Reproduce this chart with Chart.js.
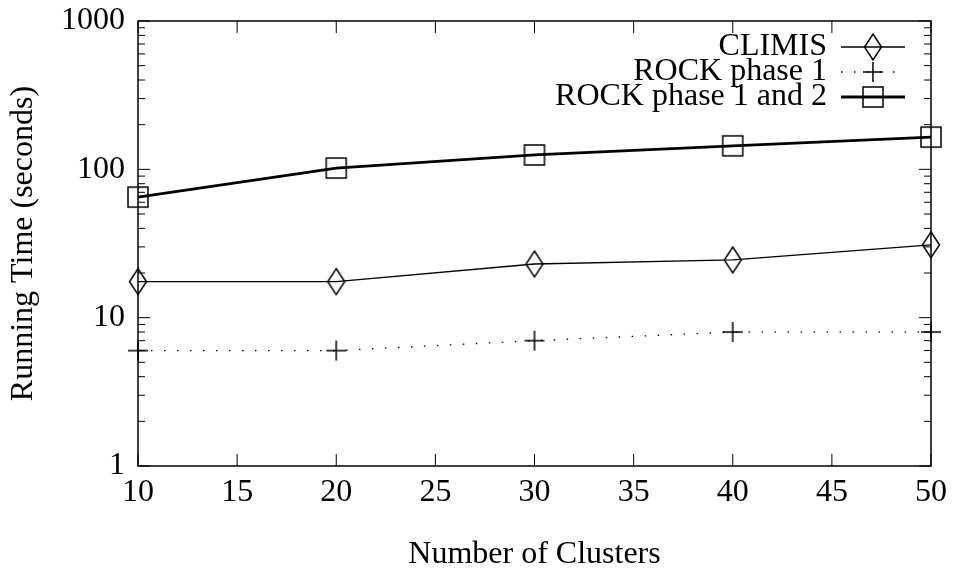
<!DOCTYPE html>
<html>
<head>
<meta charset="utf-8">
<script src="https://cdn.jsdelivr.net/npm/chart.js@4.4.1/dist/chart.umd.min.js"></script>
<style>
  html, body { margin: 0; padding: 0; background: #fff; }
</style>
</head>
<body>
<canvas id="Run_Chart" width="955" height="574"></canvas>
<script>
// ข้อมูลจากกราฟ
const clusters = [10, 20, 30, 40, 50];
const climis = [17.5, 17.5, 23, 24.5, 31];
const rockPhase1 = [6, 6, 7, 8, 8];
const rockPhase12 = [65, 102, 125, 144, 165];
const xTicks = [10, 15, 20, 25, 30, 35, 40, 45, 50];
const yTicks = [1, 10, 100, 1000];

const FONT = "'Liberation Serif', 'DejaVu Serif', serif";
const FONT_SIZE = 32;

// marker แบบ gnuplot (ไม่เติมสี)
function makeMarker(kind) {
    const c = document.createElement('canvas');
    const w = kind === 'diamond' ? 20 : 24;
    const h = kind === 'diamond' ? 30 : 24;
    c.width = w;
    c.height = h;
    const g = c.getContext('2d');
    g.strokeStyle = '#000';
    g.lineWidth = 1.5;
    g.beginPath();
    if (kind === 'diamond') {
        g.moveTo(w / 2, 2); g.lineTo(w - 1.5, h / 2); g.lineTo(w / 2, h - 2); g.lineTo(1.5, h / 2); g.closePath();
    } else if (kind === 'plus') {
        g.moveTo(2, h / 2); g.lineTo(w - 2, h / 2); g.moveTo(w / 2, 2); g.lineTo(w / 2, h - 2);
    } else {
        g.rect(2, 2, w - 4, h - 4);
    }
    g.stroke();
    return c;
}

// กรอบ + ขีด tick เข้าด้านใน
const frameTicks = {
    id: 'frameTicks',
    afterDatasetsDraw(chart) {
        const { ctx, chartArea: a, scales: { x, y } } = chart;
        ctx.save();
        ctx.strokeStyle = '#000';
        ctx.lineWidth = 1;
        ctx.beginPath();
        xTicks.forEach(v => {
            const px = x.getPixelForValue(v);
            ctx.moveTo(px, a.bottom); ctx.lineTo(px, a.bottom - 12);
            ctx.moveTo(px, a.top); ctx.lineTo(px, a.top + 12);
        });
        for (let d = 1; d <= 1000; d *= 10) {
            for (let k = 1; k <= 9; k++) {
                const v = k * d;
                if (v > 1000) break;
                const py = y.getPixelForValue(v);
                const len = k === 1 ? 12 : 7;
                ctx.moveTo(a.left, py); ctx.lineTo(a.left + len, py);
                ctx.moveTo(a.right, py); ctx.lineTo(a.right - len, py);
            }
        }
        ctx.stroke();
        ctx.lineWidth = 1.5;
        ctx.strokeRect(a.left, a.top, a.right - a.left, a.bottom - a.top);
        ctx.restore();
    }
};

// legend ชิดขวาแบบ gnuplot
const keyLegend = {
    id: 'keyLegend',
    afterDraw(chart) {
        const { ctx } = chart;
        ctx.save();
        ctx.font = FONT_SIZE + 'px ' + FONT;
        ctx.fillStyle = '#000';
        ctx.textAlign = 'right';
        ctx.textBaseline = 'middle';
        chart.data.datasets.forEach((ds, i) => {
            const yy = 47 + i * 25;
            ctx.fillText(ds.label, 827, yy);
            ctx.beginPath();
            ctx.strokeStyle = ds.borderColor;
            ctx.lineWidth = ds.borderWidth;
            ctx.setLineDash(ds.borderDash || []);
            ctx.moveTo(841, yy);
            ctx.lineTo(905, yy);
            ctx.stroke();
            ctx.setLineDash([]);
            const m = ds.pointStyle;
            ctx.drawImage(m, 873 - m.width / 2, yy - m.height / 2);
        });
        ctx.restore();
    }
};

const ctx = document.getElementById('Run_Chart').getContext('2d');
new Chart(ctx, {
    type: 'line',
    data: {
        datasets: [{
            label: 'CLIMIS',
            data: clusters.map((c, i) => ({ x: c, y: climis[i] })),
            borderColor: '#000',
            borderWidth: 1.3,
            pointStyle: makeMarker('diamond'),
            clip: false
        }, {
            label: 'ROCK phase 1',
            data: clusters.map((c, i) => ({ x: c, y: rockPhase1[i] })),
            borderColor: '#000',
            borderWidth: 1.3,
            borderDash: [1.5, 11.5],
            pointStyle: makeMarker('plus'),
            clip: false
        }, {
            label: 'ROCK phase 1 and 2',
            data: clusters.map((c, i) => ({ x: c, y: rockPhase12[i] })),
            borderColor: '#000',
            borderWidth: 2.8,
            pointStyle: makeMarker('square'),
            clip: false
        }]
    },
    options: {
        responsive: false,
        animation: false,
        devicePixelRatio: 1,
        layout: { padding: { top: 21, right: 24, left: 0, bottom: 0 } },
        plugins: {
            legend: { display: false },
            tooltip: { enabled: false }
        },
        scales: {
            x: {
                type: 'linear',
                min: 10,
                max: 50,
                afterBuildTicks: s => { s.ticks = xTicks.map(v => ({ value: v })); },
                afterFit: s => { s.height = 108; s.paddingLeft = 0; s.paddingRight = 0; },
                grid: { display: false, drawTicks: false },
                border: { display: false },
                ticks: { color: '#000', padding: 7, font: { family: FONT, size: FONT_SIZE } },
                title: {
                    display: true,
                    text: 'Number of Clusters',
                    color: '#000',
                    font: { family: FONT, size: FONT_SIZE },
                    padding: { top: 0, bottom: 0 }
                }
            },
            y: {
                type: 'logarithmic',
                min: 1,
                max: 1000,
                afterBuildTicks: s => { s.ticks = yTicks.map(v => ({ value: v })); },
                afterFit: s => { s.width = 138; s.paddingTop = 0; s.paddingBottom = 0; },
                grid: { display: false, drawTicks: false },
                border: { display: false },
                ticks: {
                    color: '#000',
                    padding: 13,
                    font: { family: FONT, size: FONT_SIZE },
                    callback: v => String(v)
                },
                title: {
                    display: true,
                    text: 'Running Time (seconds)',
                    color: '#000',
                    font: { family: FONT, size: FONT_SIZE },
                    padding: { top: 4, bottom: 0 }
                }
            }
        }
    },
    plugins: [frameTicks, keyLegend]
});
</script>
</body>
</html>
